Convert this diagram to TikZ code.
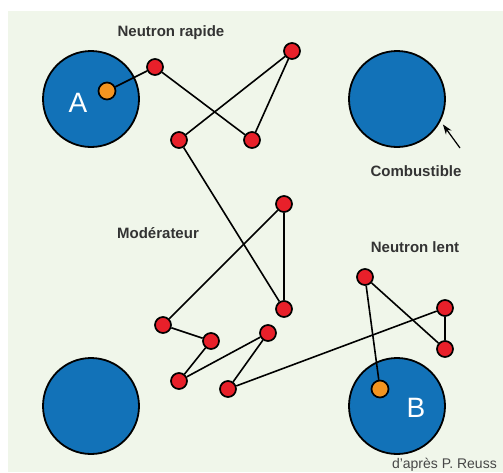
\documentclass[tikz,border=0pt]{standalone}
\usepackage{fontspec}
\setmainfont{Liberation Sans}
\usetikzlibrary{arrows.meta}

\definecolor{fondvert}{HTML}{F0F6EA}
\definecolor{bleucomb}{HTML}{1272B8}
\definecolor{rougechoc}{HTML}{E8202A}
\definecolor{orangenoy}{HTML}{F39420}
\definecolor{gristexte}{HTML}{333333}

\begin{document}
\begin{tikzpicture}[x=1pt,y=-1pt]
\tikzset{
  barre/.style={circle,draw=black,fill=bleucomb,line width=1.8pt,minimum size=96pt,inner sep=0pt},
  choc/.style={circle,draw=black,fill=rougechoc,line width=1.7pt,minimum size=16pt,inner sep=0pt},
  noyau/.style={circle,draw=black,fill=orangenoy,line width=1.7pt,minimum size=17pt,inner sep=0pt},
  etiq/.style={font=\fontsize{15}{18}\selectfont\bfseries,text=gristexte,inner sep=0pt},
  lettre/.style={font=\fontsize{28}{32}\selectfont,text=white,inner sep=0pt},
  traj/.style={black,line width=1.6pt}
}
\useasboundingbox (0,0) rectangle (503,472);
\fill[white] (0,0) rectangle (503,472);
\fill[fondvert] (8,11) rectangle (503,472);

% barreaux de combustible
\node[barre] (barA) at (91,99) {};
\node[barre] (barC) at (397,99) {};
\node[barre] (barD) at (91,406) {};
\node[barre] (barB) at (397,406) {};
\node[lettre] (lA) at (78,103) {A};
\node[lettre] (lB) at (416,408) {B};

% chocs successifs
\node[noyau] (nA) at (107,91) {};
\node[choc] (ch1) at (155,67) {};
\node[choc] (ch2) at (252,140) {};
\node[choc] (ch3) at (292,51) {};
\node[choc] (ch4) at (179,140) {};
\node[choc] (ch5) at (284,309) {};
\node[choc] (ch6) at (284,204) {};
\node[choc] (ch7) at (163,325) {};
\node[choc] (ch8) at (211,341) {};
\node[choc] (ch9) at (179,381) {};
\node[choc] (ch10) at (268,333) {};
\node[choc] (ch11) at (228,389) {};
\node[choc] (ch12) at (445,308) {};
\node[choc] (ch13) at (445,349) {};
\node[choc] (ch14) at (365,277) {};
\node[noyau] (nB) at (380,389) {};

\draw[traj] (nA) -- (ch1); \draw[traj] (ch1) -- (ch2);
\draw[traj] (ch2) -- (ch3); \draw[traj] (ch3) -- (ch4);
\draw[traj] (ch4) -- (ch5); \draw[traj] (ch5) -- (ch6);
\draw[traj] (ch6) -- (ch7); \draw[traj] (ch7) -- (ch8);
\draw[traj] (ch8) -- (ch9); \draw[traj] (ch9) -- (ch10);
\draw[traj] (ch10) -- (ch11); \draw[traj] (ch11) -- (ch12);
\draw[traj] (ch12) -- (ch13); \draw[traj] (ch13) -- (ch14);
\draw[traj] (ch14) -- (nB);

% textes
\node[etiq] (trap) at (171,33) {Neutron rapide};
\node[etiq] (tcomb) at (416,171) {Combustible};
\node[etiq] (tmod) at (158,233) {Modérateur};
\node[etiq] (tlent) at (415,247) {Neutron lent};
\node[font=\fontsize{14}{16}\selectfont,text=gristexte!90,anchor=east,inner sep=0pt] (src) at (497,465) {d’après P. Reuss};

\coordinate (fleche) at (460,148);
\draw[-{Stealth[length=10pt,width=7pt]},line width=1.2pt,shorten >=4pt] (fleche) -- (barC.-27);
\end{tikzpicture}
\end{document}
